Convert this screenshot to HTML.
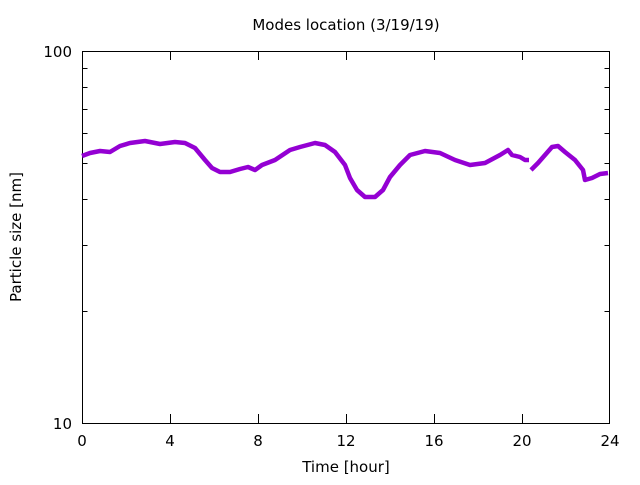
<!DOCTYPE html>
<html><head><style>body{margin:0;background:#fff}</style></head><body>
<svg width="640" height="480" xmlns="http://www.w3.org/2000/svg" font-family="DejaVu Sans, sans-serif" font-size="15">
<rect width="640" height="480" fill="#fff"/>
<rect x="82.5" y="51.5" width="527" height="372" fill="none" stroke="#000" stroke-width="1"/>
<g stroke="#000" stroke-width="1">
<path d="M82.5 51.5h9M609.5 51.5h-9M82.5 423.5h9M609.5 423.5h-9"/>
<path d="M82.5 311.5h5M609.5 311.5h-5M82.5 245.5h5M609.5 245.5h-5M82.5 199.5h5M609.5 199.5h-5M82.5 163.5h5M609.5 163.5h-5M82.5 133.5h5M609.5 133.5h-5M82.5 109.5h5M609.5 109.5h-5M82.5 87.5h5M609.5 87.5h-5M82.5 68.5h5M609.5 68.5h-5"/>
<path d="M170.5 423v-9M170.5 51v9M258.5 423v-9M258.5 51v9M346.5 423v-9M346.5 51v9M434.5 423v-9M434.5 51v9M522.5 423v-9M522.5 51v9"/>
</g>
<g text-anchor="end"><text x="72" y="57">100</text><text x="72" y="429">10</text></g>
<g text-anchor="middle">
<text x="82" y="446">0</text><text x="170" y="446">4</text><text x="258" y="446">8</text><text x="346" y="446">12</text><text x="434" y="446">16</text><text x="522" y="446">20</text><text x="610" y="446">24</text>
<text x="346" y="472">Time [hour]</text>
<text x="346" y="30">Modes location (3/19/19)</text>
<text transform="translate(21,237) rotate(-90)">Particle size [nm]</text>
</g>
<g fill="none" stroke="#9400d3" stroke-width="4.5" stroke-linejoin="round">
<polyline points="82,156 90,153 100,151 110,152 120,146 130,143 145,141 160,144 175,142 185,143 195,148 205,160 212,168 220,172 230,172 240,169 248,167 255,170 262,165 275,160 290,150 300,147 315,143 325,145 335,152 345,165 350,178 357,190 365,197 375,197 383,190 390,177 400,165 410,155 425,151 440,153 455,160 470,165 485,163 500,155 508,150 512,155 520,157 525,160 529,160"/>
<polyline points="531,170 538,163 545,155 552,147 558,146 565,152 575,160 583,170 585,180 592,178 600,174 608,173"/>
</g>
</svg>
</body></html>
